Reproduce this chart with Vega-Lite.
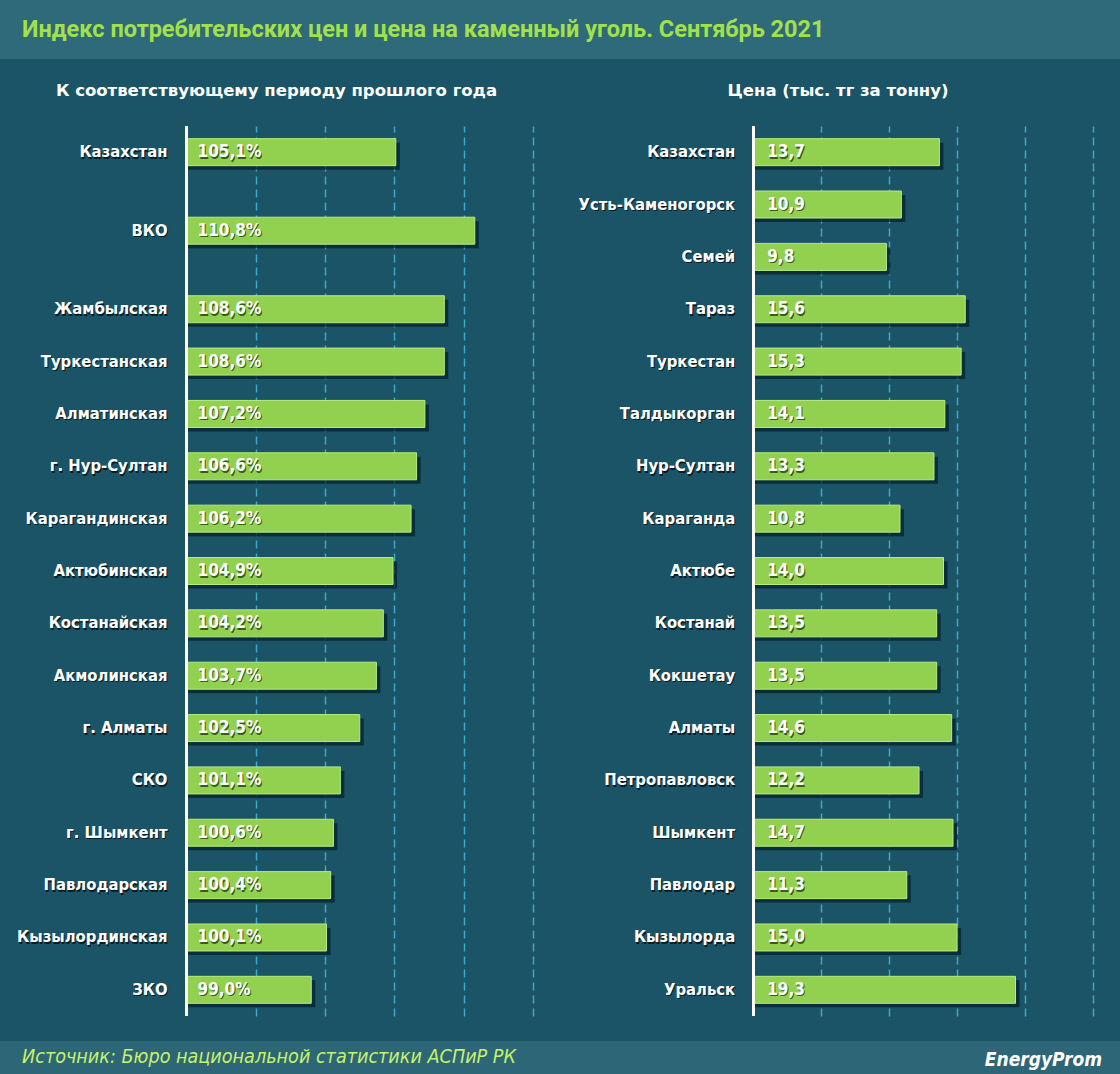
{
  "$schema": "https://vega.github.io/schema/vega-lite/v6.json",
  "background": "#1a5466",
  "padding": 0,
  "spacing": 24,
  "config": {
    "view": {"stroke": null},
    "font": "DejaVu Sans Condensed",
    "locale": {"number": {"decimal": ",", "thousands": " ", "grouping": [3], "currency": ["", ""]}},
    "concat": {"spacing": 0}
  },
  "vconcat": [
    {
      "width": 1120,
      "height": 59,
      "title": {"text": "Индекс потребительских цен и цена на каменный уголь. Сентябрь 2021", "anchor": "start", "frame": "group", "orient": "top", "baseline": "alphabetic", "offset": -60, "dx": 22, "fontSize": 23.5, "fontWeight": "bold", "color": "#a2e04e", "font": "Roboto"},
      "data": {"values": [{}]},
      "mark": {"type": "rect", "color": "#2e6a7a"},
      "encoding": {}
    },
    {
      "spacing": 0,
      "hconcat": [
        {
          "width": 533,
          "height": 890,
          "title": {"text": "К соответствующему периоду прошлого года", "anchor": "middle", "frame": "group", "dx": 10, "baseline": "alphabetic", "offset": 12.5, "fontSize": 16.5, "fontWeight": "bold", "color": "white", "font": "DejaVu Sans"},
          "data": {"values": [
            {"rank": 1, "region": "Казахстан", "index": 1.051},
            {"rank": 2.5, "region": "ВКО", "index": 1.108},
            {"rank": 4, "region": "Жамбылская", "index": 1.086},
            {"rank": 5, "region": "Туркестанская", "index": 1.086},
            {"rank": 6, "region": "Алматинская", "index": 1.072},
            {"rank": 7, "region": "г. Нур-Султан", "index": 1.066},
            {"rank": 8, "region": "Карагандинская", "index": 1.062},
            {"rank": 9, "region": "Актюбинская", "index": 1.049},
            {"rank": 10, "region": "Костанайская", "index": 1.042},
            {"rank": 11, "region": "Акмолинская", "index": 1.037},
            {"rank": 12, "region": "г. Алматы", "index": 1.025},
            {"rank": 13, "region": "СКО", "index": 1.011},
            {"rank": 14, "region": "г. Шымкент", "index": 1.006},
            {"rank": 15, "region": "Павлодарская", "index": 1.004},
            {"rank": 16, "region": "Кызылординская", "index": 1.001},
            {"rank": 17, "region": "ЗКО", "index": 0.99}
          ]},
          "layer": [
            {
              "mark": {"type": "bar", "orient": "horizontal", "height": 27, "color": "#07222e", "opacity": 0.75, "xOffset": 4, "yOffset": 4},
              "encoding": {
                "x": {"field": "index", "type": "quantitative", "scale": {"domain": [0.76544, 1.15], "zero": false, "nice": false, "padding": 0},
                  "axis": {"grid": true, "values": [0.95, 1.0, 1.05, 1.1, 1.15], "gridColor": "#3fa9c9", "gridDash": [8, 5], "gridWidth": 1.5, "labels": false, "ticks": false, "domain": false, "title": null}},
                "x2": {"datum": 0.9},
                "y": {"field": "rank", "type": "quantitative", "scale": {"domain": [0.5, 17.5], "reverse": true, "nice": false, "zero": false, "padding": 0}, "axis": null}
              }
            },
            {
              "mark": {"type": "bar", "orient": "horizontal", "height": 27, "color": "#92d050", "stroke": "#b9ec7e", "strokeWidth": 1},
              "encoding": {
                "x": {"field": "index", "type": "quantitative"},
                "x2": {"datum": 0.9},
                "y": {"field": "rank", "type": "quantitative"}
              }
            },
            {
              "mark": {"type": "rule", "color": "white", "strokeWidth": 2},
              "encoding": {"x": {"datum": 0.9}}
            },
            {
              "mark": {"type": "text", "align": "right", "baseline": "middle", "dx": -18, "dy": 1.5, "fontSize": 16.5, "fontWeight": "bold", "color": "#061c26"},
              "encoding": {"x": {"datum": 0.9}, "y": {"field": "rank", "type": "quantitative"}, "text": {"field": "region"}}
            },
            {
              "mark": {"type": "text", "align": "right", "baseline": "middle", "dx": -19, "fontSize": 16.5, "fontWeight": "bold", "color": "white"},
              "encoding": {"x": {"datum": 0.9}, "y": {"field": "rank", "type": "quantitative"}, "text": {"field": "region"}}
            },
            {
              "mark": {"type": "text", "align": "left", "baseline": "middle", "dx": 12, "dy": 1.5, "fontSize": 17, "fontWeight": "bold", "color": "#355f17"},
              "encoding": {"x": {"datum": 0.9}, "y": {"field": "rank", "type": "quantitative"}, "text": {"field": "index", "type": "quantitative", "format": ".1%"}}
            },
            {
              "mark": {"type": "text", "align": "left", "baseline": "middle", "dx": 11, "fontSize": 17, "fontWeight": "bold", "color": "white"},
              "encoding": {"x": {"datum": 0.9}, "y": {"field": "rank", "type": "quantitative"}, "text": {"field": "index", "type": "quantitative", "format": ".1%"}}
            }
          ]
        },
        {
          "width": 560,
          "height": 890,
          "title": {"text": "Цена (тыс. тг за тонну)", "anchor": "middle", "frame": "group", "dx": 25, "baseline": "alphabetic", "offset": 12.5, "fontSize": 16.5, "fontWeight": "bold", "color": "white", "font": "DejaVu Sans"},
          "data": {"values": [
            {"rank": 1, "city": "Казахстан", "price": 13.7},
            {"rank": 2, "city": "Усть-Каменогорск", "price": 10.9},
            {"rank": 3, "city": "Семей", "price": 9.8},
            {"rank": 4, "city": "Тараз", "price": 15.6},
            {"rank": 5, "city": "Туркестан", "price": 15.3},
            {"rank": 6, "city": "Талдыкорган", "price": 14.1},
            {"rank": 7, "city": "Нур-Султан", "price": 13.3},
            {"rank": 8, "city": "Караганда", "price": 10.8},
            {"rank": 9, "city": "Актюбе", "price": 14.0},
            {"rank": 10, "city": "Костанай", "price": 13.5},
            {"rank": 11, "city": "Кокшетау", "price": 13.5},
            {"rank": 12, "city": "Алматы", "price": 14.6},
            {"rank": 13, "city": "Петропавловск", "price": 12.2},
            {"rank": 14, "city": "Шымкент", "price": 14.7},
            {"rank": 15, "city": "Павлодар", "price": 11.3},
            {"rank": 16, "city": "Кызылорда", "price": 15.0},
            {"rank": 17, "city": "Уральск", "price": 19.3}
          ]},
          "layer": [
            {
              "mark": {"type": "bar", "orient": "horizontal", "height": 27, "color": "#07222e", "opacity": 0.75, "xOffset": 4, "yOffset": 4},
              "encoding": {
                "x": {"field": "price", "type": "quantitative", "scale": {"domain": [-16.2, 25], "zero": false, "nice": false, "padding": 0},
                  "axis": {"grid": true, "values": [5, 10, 15, 20, 25], "gridColor": "#3fa9c9", "gridDash": [8, 5], "gridWidth": 1.5, "labels": false, "ticks": false, "domain": false, "title": null}},
                "x2": {"datum": 0},
                "y": {"field": "rank", "type": "quantitative", "scale": {"domain": [0.5, 17.5], "reverse": true, "nice": false, "zero": false, "padding": 0}, "axis": null}
              }
            },
            {
              "mark": {"type": "bar", "orient": "horizontal", "height": 27, "color": "#92d050", "stroke": "#b9ec7e", "strokeWidth": 1},
              "encoding": {
                "x": {"field": "price", "type": "quantitative"},
                "x2": {"datum": 0},
                "y": {"field": "rank", "type": "quantitative"}
              }
            },
            {
              "mark": {"type": "rule", "color": "white", "strokeWidth": 2},
              "encoding": {"x": {"datum": 0}}
            },
            {
              "mark": {"type": "text", "align": "right", "baseline": "middle", "dx": -17, "dy": 1.5, "fontSize": 16.5, "fontWeight": "bold", "color": "#061c26"},
              "encoding": {"x": {"datum": 0}, "y": {"field": "rank", "type": "quantitative"}, "text": {"field": "city"}}
            },
            {
              "mark": {"type": "text", "align": "right", "baseline": "middle", "dx": -18, "fontSize": 16.5, "fontWeight": "bold", "color": "white"},
              "encoding": {"x": {"datum": 0}, "y": {"field": "rank", "type": "quantitative"}, "text": {"field": "city"}}
            },
            {
              "mark": {"type": "text", "align": "left", "baseline": "middle", "dx": 15, "dy": 1.5, "fontSize": 17, "fontWeight": "bold", "color": "#355f17"},
              "encoding": {"x": {"datum": 0}, "y": {"field": "rank", "type": "quantitative"}, "text": {"field": "price", "type": "quantitative", "format": ".1f"}}
            },
            {
              "mark": {"type": "text", "align": "left", "baseline": "middle", "dx": 14, "fontSize": 17, "fontWeight": "bold", "color": "white"},
              "encoding": {"x": {"datum": 0}, "y": {"field": "rank", "type": "quantitative"}, "text": {"field": "price", "type": "quantitative", "format": ".1f"}}
            }
          ]
        }
      ]
    },
    {
      "spacing": 0,
      "hconcat": [
        {
          "width": 560,
          "height": 33,
          "title": {"text": "Источник: Бюро национальной статистики АСПиР РК", "anchor": "start", "frame": "group", "orient": "top", "baseline": "alphabetic", "offset": -42, "dx": 22, "fontSize": 19.6, "fontWeight": "normal", "fontStyle": "italic", "color": "#c8f26a"},
          "data": {"values": [{}]},
          "mark": {"type": "rect", "color": "#2d6777"},
          "encoding": {}
        },
        {
          "width": 560,
          "height": 33,
          "title": {"text": "EnergyProm", "anchor": "end", "frame": "group", "orient": "top", "baseline": "alphabetic", "offset": -44, "dx": -18, "fontSize": 19, "fontWeight": "bold", "fontStyle": "italic", "color": "white"},
          "data": {"values": [{}]},
          "mark": {"type": "rect", "color": "#2d6777"},
          "encoding": {}
        }
      ]
    }
  ]
}
